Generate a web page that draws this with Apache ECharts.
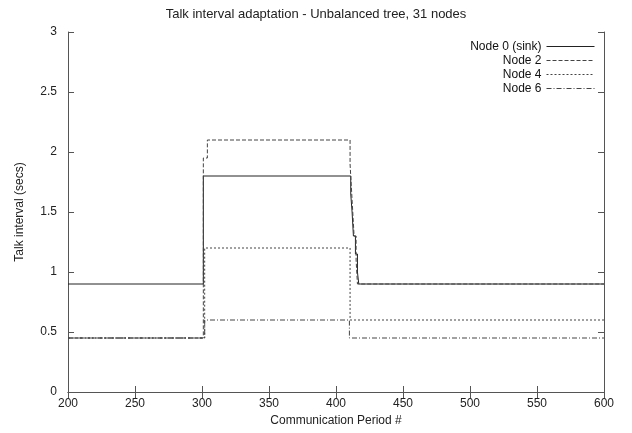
<!DOCTYPE html>
<html>
<head>
<meta charset="utf-8">
<script src="https://cdn.jsdelivr.net/npm/echarts@6/dist/echarts.min.js"></script>
<style>
  html, body { margin: 0; padding: 0; background: #fff; }
  #chart { width: 632px; height: 433px; }
</style>
</head>
<body>
<div id="chart"></div>
<script>
// change points (period, talk interval) - held until the next point
const node0Periods = [200, 301, 411, 412, 413, 414.5, 416, 417, 600]
const node0Values  = [0.9, 1.8, 1.65, 1.5, 1.3, 1.15, 1.0, 0.9, 0.9]

const node2Periods = [200, 301, 304, 410.5, 411.5, 412.5, 413.5, 415, 416, 600]
const node2Values  = [0.45, 1.95, 2.1, 1.9, 1.7, 1.5, 1.3, 1.1, 0.9, 0.9]

const node4Periods = [200, 302, 410.5, 600]
const node4Values  = [0.45, 1.2, 0.6, 0.6]

const node6Periods = [200, 302, 410, 600]
const node6Values  = [0.45, 0.6, 0.45, 0.45]

const xTicks = [200, 250, 300, 350, 400, 450, 500, 550, 600]
const yTicks = [0, 0.5, 1, 1.5, 2, 2.5, 3]

const font = 'Liberation Sans, Arial, sans-serif'

const zip = (xs, ys) => xs.map((x, i) => [x, ys[i]])

const makeSeries = (name, xs, ys, type, color) => ({
    name: name,
    type: 'line',
    step: 'end',
    symbol: 'none',
    data: zip(xs, ys),
    lineStyle: { color: color, width: 1, type: type },
    itemStyle: { color: color },
    emphasis: { disabled: true },
    animation: false
})

const axisCommon = {
    type: 'value',
    axisLine: { show: true, lineStyle: { color: '#555', width: 1 } },
    axisTick: { show: true, inside: true, length: 6, lineStyle: { color: '#555' } },
    splitLine: { show: false }
}

const chart = echarts.init(document.getElementById('chart'))
chart.setOption({
    backgroundColor: '#fff',
    title: {
        text: 'Talk interval adaptation - Unbalanced tree, 31 nodes',
        left: 'center',
        top: 3,
        textStyle: { fontFamily: font, fontSize: 13, fontWeight: 'normal', color: '#222' }
    },
    legend: {
        orient: 'vertical',
        right: 32,
        top: 35,
        align: 'right',
        itemWidth: 48,
        itemHeight: 10,
        itemGap: 1,
        textStyle: { fontFamily: font, fontSize: 12, color: '#111', lineHeight: 13 },
        itemStyle: { opacity: 0 },
        lineStyle: { width: 1 },
        data: ['Node 0 (sink)', 'Node 2', 'Node 4', 'Node 6']
    },
    grid: { left: 68, right: 28, top: 32, bottom: 41 },
    xAxis: [
        Object.assign({}, axisCommon, {
            min: 200, max: 600, interval: 50,
            name: 'Communication Period #',
            nameLocation: 'middle',
            nameGap: 22,
            nameTextStyle: { fontFamily: font, fontSize: 12, color: '#222' },
            axisLabel: { fontFamily: font, fontSize: 12, color: '#222', margin: 6,
                customValues: xTicks }
        }),
        Object.assign({}, axisCommon, {
            position: 'top', min: 200, max: 600, interval: 50,
            axisLabel: { show: false }
        })
    ],
    yAxis: [
        Object.assign({}, axisCommon, {
            min: 0, max: 3, interval: 0.5,
            name: 'Talk interval (secs)',
            nameLocation: 'middle',
            nameGap: 42,
            nameTextStyle: { fontFamily: font, fontSize: 12, color: '#222' },
            axisLabel: { fontFamily: font, fontSize: 12, color: '#222', margin: 11,
                customValues: yTicks }
        }),
        Object.assign({}, axisCommon, {
            position: 'right', min: 0, max: 3, interval: 0.5,
            axisLabel: { show: false }
        })
    ],
    series: [
        makeSeries('Node 0 (sink)', node0Periods, node0Values, 'solid', '#222'),
        makeSeries('Node 2', node2Periods, node2Values, [4, 2], '#444'),
        makeSeries('Node 4', node4Periods, node4Values, [2, 2], '#444'),
        makeSeries('Node 6', node6Periods, node6Values, [5, 2, 1, 2], '#444')
    ]
})
</script>
</body>
</html>
